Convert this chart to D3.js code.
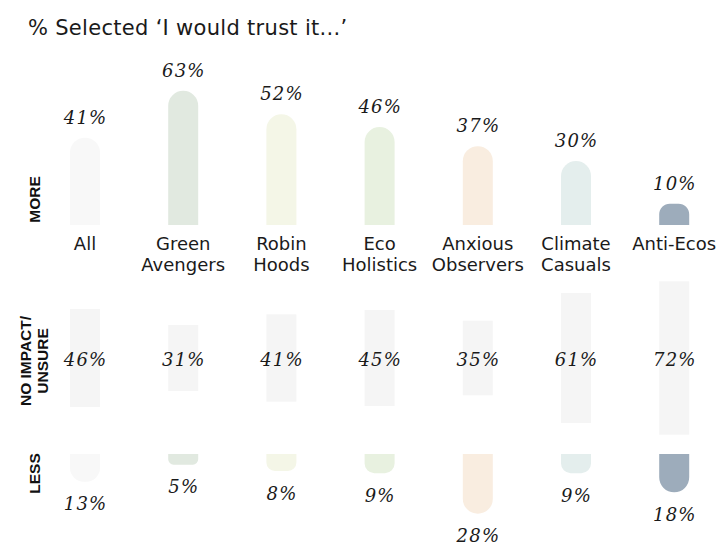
<!DOCTYPE html>
<html>
<head>
<meta charset="utf-8">
<script src="https://cdn.jsdelivr.net/npm/d3@7"></script>
<style>
  html, body { margin: 0; padding: 0; background: #ffffff; }
  svg { display: block; }
  .val { font-family: "DejaVu Serif", serif; font-style: italic; font-size: 18px; letter-spacing: 1.2px; fill: #1a1a1a; }
  .cat { font-family: "DejaVu Sans", sans-serif; font-size: 18px; fill: #1a1a1a; }
  .row { font-family: "Liberation Sans", Arial, sans-serif; font-weight: bold; font-size: 15.5px; fill: #111; }
  .title { font-family: "DejaVu Sans", sans-serif; font-size: 21px; letter-spacing: 0.3px; fill: #1a1a1a; }
</style>
</head>
<body>
<script>
// Segments and the share answering "more", "no impact / unsure" and "less"
const categories = ["All", "Green Avengers", "Robin Hoods", "Eco Holistics", "Anxious Observers", "Climate Casuals", "Anti-Ecos"];
const moreValues = [41, 63, 52, 46, 37, 30, 10];
const neutralValues = [46, 31, 41, 45, 35, 61, 72];
const lessValues = [13, 5, 8, 9, 28, 9, 18];
const segmentColors = ["#f8f8f8", "#e1e9e0", "#f4f6e7", "#e8f1e0", "#f9ede0", "#e4eeed", "#9dacbb"];
const neutralColor = "#f5f5f5";
const rowLabels = [["MORE"], ["NO IMPACT/", "UNSURE"], ["LESS"]];

const W = 719, H = 544;
const svg = d3.select("body").append("svg").attr("width", W).attr("height", H);

const x = d3.scalePoint().domain(categories).range([85, 674.2]);
const h = d3.scaleLinear().domain([0, 100]).range([0, 213]);
const barW = 30;

const topBase = 225, midCenter = 358, lowBase = 454;

svg.append("text").attr("class", "title").attr("x", 28).attr("y", 35)
  .text("% Selected \u2018I would trust it...\u2019");

// Bar with a rounded free end (dir -1 grows up, +1 grows down)
function arcBar(cx, y0, len, dir) {
  const r = Math.min(barW / 2, len / 2);
  const x0 = cx - barW / 2, x1 = cx + barW / 2;
  const yEnd = y0 + dir * len;
  const sweep = dir < 0 ? 1 : 0;
  return `M${x0},${y0}L${x0},${yEnd - dir * r}A${r},${r} 0 0 ${sweep} ${x0 + r},${yEnd}` +
    `L${x1 - r},${yEnd}A${r},${r} 0 0 ${sweep} ${x1},${yEnd - dir * r}L${x1},${y0}Z`;
}

const data = categories.map((c, i) => ({ c, more: moreValues[i], mid: neutralValues[i], less: lessValues[i], color: segmentColors[i] }));

// MORE row
svg.append("g").selectAll("path").data(data).join("path")
  .attr("d", d => arcBar(x(d.c), topBase, h(d.more), -1))
  .attr("fill", d => d.color);
svg.append("g").selectAll("text").data(data).join("text")
  .attr("class", "val").attr("text-anchor", "middle")
  .attr("x", d => x(d.c) + 0.6).attr("y", d => topBase - h(d.more) - 14)
  .text(d => d.more + "%");

// Category labels
const catG = svg.append("g").selectAll("text").data(data).join("text")
  .attr("class", "cat").attr("text-anchor", "middle")
  .attr("x", d => x(d.c)).attr("y", 249.5);
catG.each(function(d) {
  const words = d.c.split(" ");
  d3.select(this).selectAll("tspan").data(words).join("tspan")
    .attr("x", x(d.c)).attr("dy", (w, i) => i === 0 ? 0 : 21).text(w => w);
});

// NO IMPACT / UNSURE row
svg.append("g").selectAll("rect").data(data).join("rect")
  .attr("x", d => x(d.c) - barW / 2).attr("width", barW)
  .attr("y", d => midCenter - h(d.mid) / 2).attr("height", d => h(d.mid))
  .attr("fill", neutralColor);
svg.append("g").selectAll("text").data(data).join("text")
  .attr("class", "val").attr("text-anchor", "middle")
  .attr("x", d => x(d.c) + 0.6).attr("y", midCenter + 8)
  .text(d => d.mid + "%");

// LESS row
svg.append("g").selectAll("path").data(data).join("path")
  .attr("d", d => arcBar(x(d.c), lowBase, h(d.less), 1))
  .attr("fill", d => d.color);
svg.append("g").selectAll("text").data(data).join("text")
  .attr("class", "val").attr("text-anchor", "middle")
  .attr("x", d => x(d.c) + 0.6).attr("y", d => lowBase + h(d.less) + 28.5)
  .text(d => d.less + "%");

// Row labels, rotated
const rowCenters = [[34.5, 199.5], [33.5, 361], [34.5, 473.5]];
rowLabels.forEach((lines, i) => {
  const [cx, cy] = rowCenters[i];
  const t = svg.append("text").attr("class", "row").attr("text-anchor", "middle")
    .attr("transform", `translate(${cx},${cy}) rotate(-90)`);
  const n = lines.length;
  lines.forEach((ln, j) => {
    t.append("tspan").attr("x", 0).attr("y", 5.6 + (j - (n - 1) / 2) * 17).text(ln);
  });
});
</script>
</body>
</html>
